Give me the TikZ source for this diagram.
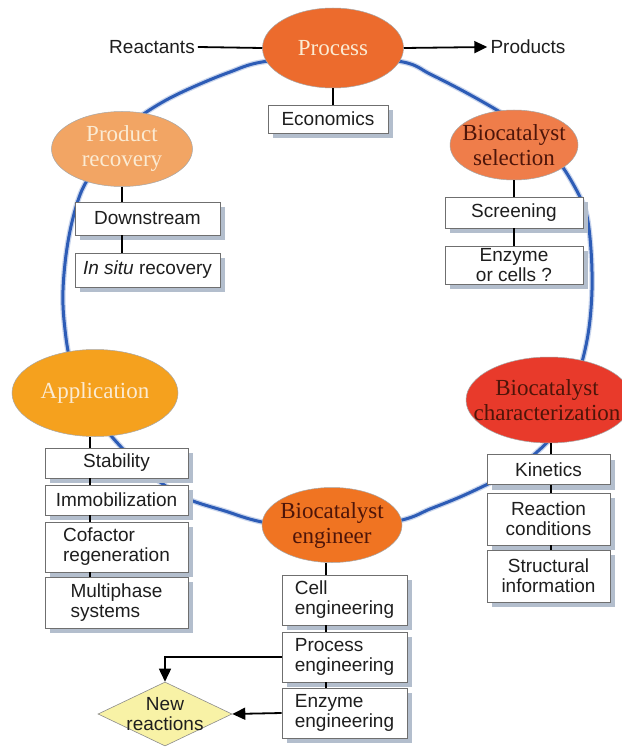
\documentclass[tikz,border=0pt]{standalone}
\usepackage{fontspec}
\setmainfont{Liberation Serif}
\setsansfont{Liberation Sans}
\usetikzlibrary{shapes.geometric,arrows.meta,shadows}
\definecolor{proccol}{HTML}{EC6B2D}
\definecolor{preccol}{HTML}{F2A564}
\definecolor{selcol}{HTML}{EF7D4A}
\definecolor{appcol}{HTML}{F5A11E}
\definecolor{charcol}{HTML}{E83A2B}
\definecolor{engcol}{HTML}{F07422}
\definecolor{lightt}{HTML}{FBEBD3}
\definecolor{darkt}{HTML}{4E1509}
\definecolor{bluel}{HTML}{2D5CB6}
\definecolor{shadowc}{HTML}{B3BECD}
\definecolor{boxline}{HTML}{6F6F6F}
\definecolor{diamf}{HTML}{F8F2A6}
\definecolor{boxtext}{HTML}{1E1E1E}
\begin{document}
\begin{tikzpicture}[x=1pt,y=-1pt,
  bx/.style={rectangle, draw=boxline, line width=0.8pt, fill=white, inner sep=2pt,
    align=center, text=boxtext, font=\sffamily\fontsize{19}{20}\selectfont,
    drop shadow={shadow xshift=5pt, shadow yshift=-5pt, fill=shadowc, opacity=1}},
  oval/.style={ellipse, inner sep=0pt, draw=black!35, line width=0.5pt},
  ovt/.style={align=center, inner sep=0pt, font=\rmfamily\fontsize{23}{25}\selectfont},
  lbl/.style={inner sep=3pt, text=boxtext, font=\sffamily\fontsize{19}{20}\selectfont},
  conn/.style={draw=black, line width=1.6pt},
  arr/.style={draw=black, line width=1.8pt, -{Triangle[length=13pt,width=12pt]}},
  loop/.style={draw=bluel, line width=3pt}]
\useasboundingbox (0,0) rectangle (621,749);
\fill[white] (0,0) rectangle (621,749);

% blue cycle
\draw[draw=bluel!25, line width=5.5pt] plot[smooth cycle, tension=0.55] coordinates {
 (333,55) (403,62) (430,74) (465,92) (500,112) (530,132) (555,157) (572,182)
 (586,212) (591,250) (592,290) (589,328) (582,362) (568,405) (552,436) (537,452)
 (515,470) (490,483) (460,497) (430,509) (402,520) (332,533) (262,522) (225,511)
 (188,499) (160,482) (138,464) (122,448) (104,427) (85,398) (70,360) (64,320)
 (63,290) (66,255) (72,222) (82,190) (100,160) (120,132) (145,113) (170,98)
 (200,84) (230,72) (262,62)};
\draw[loop] plot[smooth cycle, tension=0.55] coordinates {
 (333,55) (403,62) (430,74) (465,92) (500,112) (530,132) (555,157) (572,182)
 (586,212) (591,250) (592,290) (589,328) (582,362) (568,405) (552,436) (537,452)
 (515,470) (490,483) (460,497) (430,509) (402,520) (332,533) (262,522) (225,511)
 (188,499) (160,482) (138,464) (122,448) (104,427) (85,398) (70,360) (64,320)
 (63,290) (66,255) (72,222) (82,190) (100,160) (120,132) (145,113) (170,98)
 (200,84) (230,72) (262,62)};

% ellipses
\node[oval, fill=proccol, minimum width=141pt, minimum height=80pt] (proc) at (333,48) {};
\node[ovt, text=lightt] (proct) at (proc) {Process};
\node[oval, fill=preccol, minimum width=141pt, minimum height=75pt] (prec) at (122,149) {};
\node[ovt, text=lightt] (prect) at (prec) {Product\\recovery};
\node[oval, fill=selcol, minimum width=128pt, minimum height=70pt] (sel) at (514,145) {};
\node[ovt, text=darkt] (selt) at (sel) {Biocatalyst\\selection};
\node[oval, fill=appcol, minimum width=166pt, minimum height=87pt] (app) at (95,393) {};
\node[ovt, text=lightt] (appt) at (app) {Application};
\node[oval, fill=charcol, minimum width=166pt, minimum height=86pt] (char) at (549,400) {};
\node[ovt, text=darkt] (chart) at ([xshift=-2pt]char.center) {Biocatalyst\\characterization};
\node[oval, fill=engcol, minimum width=140pt, minimum height=75pt] (eng) at (332,525) {};
\node[ovt, text=darkt] (engt) at (eng) {Biocatalyst\\engineer};

% top line
\node[lbl] (react) at (152,47) {Reactants};
\node[lbl] (prod) at (528,47) {Products};
\draw[conn, line width=1.8pt] (react.east) -- (proc.west);
\draw[arr] (proc.east) -- (prod.west);

% boxes
\node[bx, minimum width=120pt, minimum height=28pt] (econ) at (328,119) {Economics};
\node[bx, minimum width=145pt, minimum height=33pt] (down) at (147.5,218.5) {Downstream};
\node[bx, minimum width=145pt, minimum height=34pt] (insitu) at (147.5,270) {\textit{In situ} recovery};
\node[bx, minimum width=138pt, minimum height=31pt] (scr) at (514,212.5) {Screening};
\node[bx, minimum width=138pt, minimum height=38pt] (enz) at (514,265) {Enzyme\\or cells ?};
\node[bx, minimum width=143pt, minimum height=30pt] (stab) at (116.5,463) {Stability};
\node[bx, minimum width=143pt, minimum height=30pt] (immo) at (116.5,500) {Immobilization};
\node[bx, minimum width=143pt, minimum height=50pt, align=left] (cof) at (116.5,547) {Cofactor\\regeneration};
\node[bx, minimum width=143pt, minimum height=51pt, align=left] (multi) at (116.5,602.5) {Multiphase\\systems};
\node[bx, minimum width=123pt, minimum height=30pt] (kin) at (548.5,469.5) {Kinetics};
\node[bx, minimum width=123pt, minimum height=52pt] (reac) at (548.5,519) {Reaction\\conditions};
\node[bx, minimum width=123pt, minimum height=52pt] (struc) at (548.5,576) {Structural\\information};
\node[bx, minimum width=125pt, minimum height=50pt, align=left] (cell) at (344.5,600) {Cell\\engineering};
\node[bx, minimum width=125pt, minimum height=50pt, align=left] (peng) at (344.5,657) {Process\\engineering};
\node[bx, minimum width=125pt, minimum height=50pt, align=left] (eeng) at (344.5,713) {Enzyme\\engineering};

% diamond
\node[diamond, draw=black!45, line width=0.6pt, fill=diamf, inner sep=0pt,
  minimum width=134pt, minimum height=64pt] (nr) at (165,714) {};
\node[lbl, align=center, inner sep=0pt] (nrt) at (nr) {New\\reactions};

% connectors
\draw[conn] (proc.south) -- (proc.south |- econ.north);
\draw[conn] (prec.south) -- (prec.south |- down.north);
\draw[conn] (prec.south |- down.south) -- (prec.south |- insitu.north);
\draw[conn] (sel.south) -- (sel.south |- scr.north);
\draw[conn] (sel.south |- scr.south) -- (sel.south |- enz.north);
\coordinate (appc) at ([xshift=-5pt]app.south);
\draw[conn] (appc) -- (appc |- stab.north);
\draw[conn] (appc |- stab.south) -- (appc |- immo.north);
\draw[conn] (appc |- immo.south) -- (appc |- cof.north);
\draw[conn] (appc |- cof.south) -- (appc |- multi.north);
\coordinate (charc) at ([xshift=2pt]char.south);
\draw[conn] (charc) -- (charc |- kin.north);
\draw[conn] (charc |- kin.south) -- (charc |- reac.north);
\draw[conn] (charc |- reac.south) -- (charc |- struc.north);
\coordinate (engc) at ([xshift=-6pt]eng.south);
\draw[conn] (engc) -- (engc |- cell.north);
\draw[conn] (engc |- cell.south) -- (engc |- peng.north);
\draw[conn] (engc |- peng.south) -- (engc |- eeng.north);

% arrows to new reactions
\draw[arr, line width=1.6pt] (peng.west) -| (nr.north);
\draw[arr] (eeng.west) -- (nr.east);
\end{tikzpicture}
\end{document}
